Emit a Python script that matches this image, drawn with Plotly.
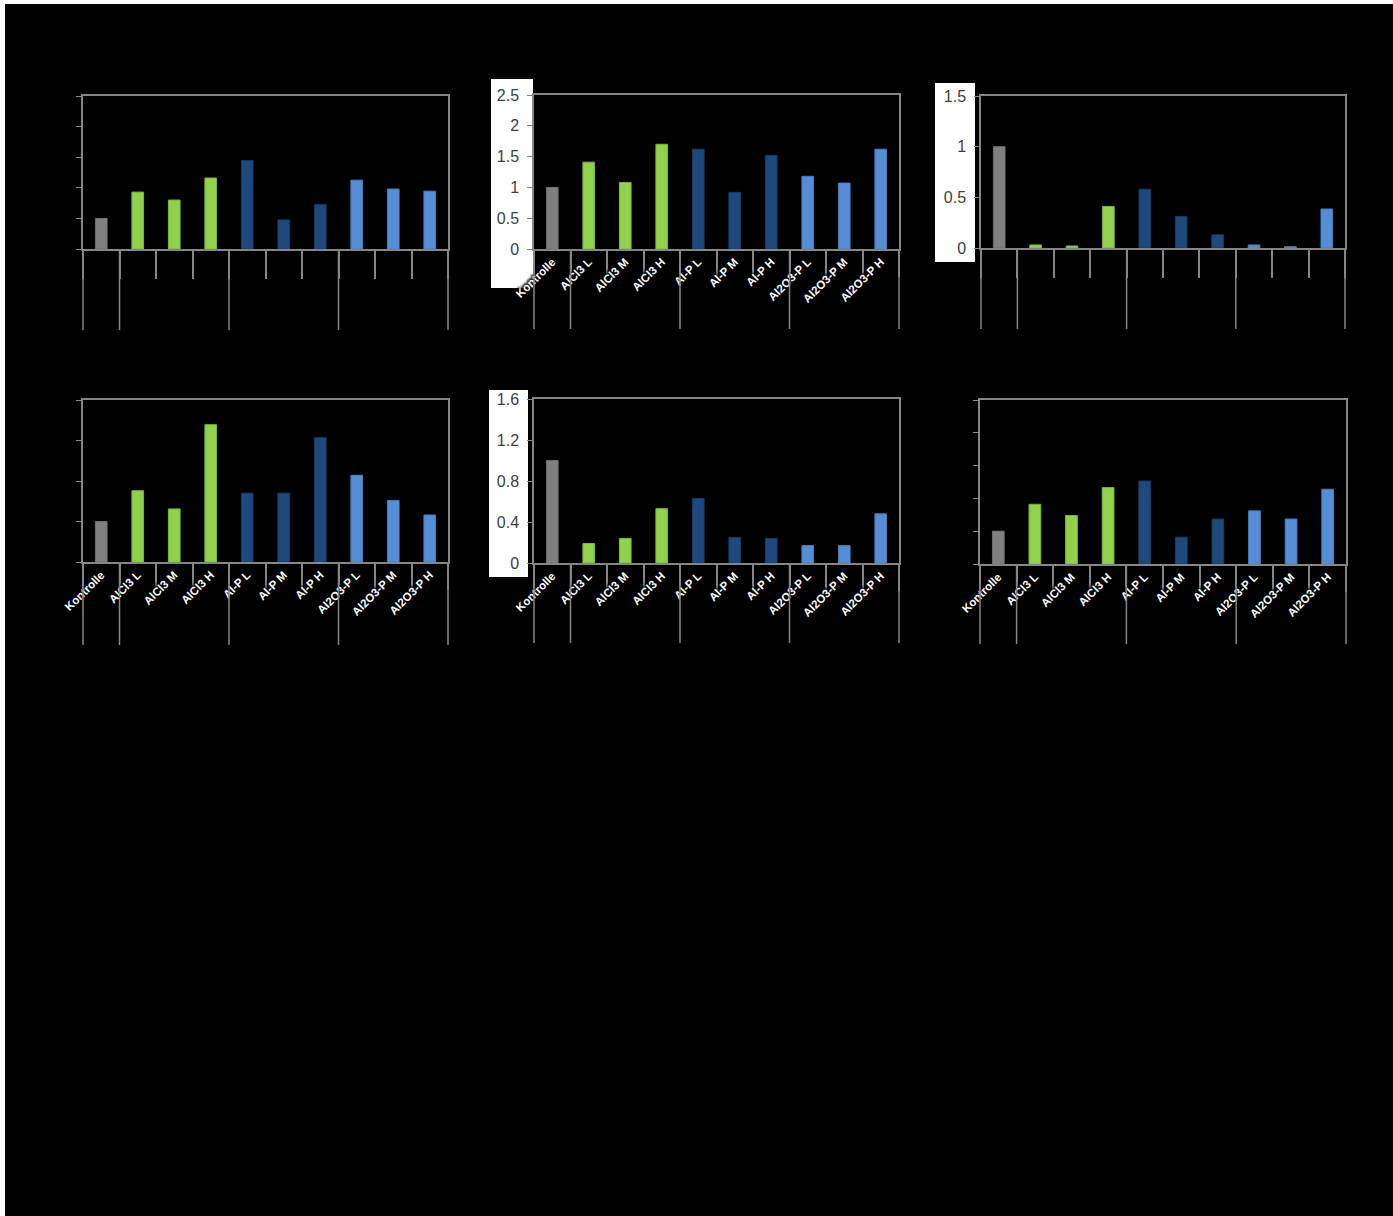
import plotly.graph_objects as go

W, H = 1393, 1216

categories = ["Kontrolle", "AlCl3 L", "AlCl3 M", "AlCl3 H", "Al-P L", "Al-P M", "Al-P H",
              "Al2O3-P L", "Al2O3-P M", "Al2O3-P H"]
groups = ["Kontrolle", "AlCl3", "AlCl3", "AlCl3", "Al-P", "Al-P", "Al-P",
          "Al2O3-P", "Al2O3-P", "Al2O3-P"]
group_colors = {"Kontrolle": "#808080", "AlCl3": "#92D050", "Al-P": "#1F497D", "Al2O3-P": "#558ED5"}
group_edges = {"Kontrolle": "#707070", "AlCl3": "#7DB63F", "Al-P": "#183B66", "Al2O3-P": "#4A7EBE"}

values_top_left = [1.0, 1.86, 1.60, 2.32, 2.89, 0.95, 1.45, 2.25, 1.96, 1.89]
values_top_mid = [1.0, 1.41, 1.08, 1.70, 1.62, 0.92, 1.52, 1.18, 1.07, 1.62]
values_top_right = [1.0, 0.03, 0.02, 0.41, 0.58, 0.31, 0.13, 0.03, 0.013, 0.385]
values_bot_left = [1.0, 1.76, 1.31, 3.39, 1.70, 1.70, 3.07, 2.14, 1.52, 1.16]
values_bot_mid = [1.0, 0.19, 0.24, 0.53, 0.63, 0.25, 0.24, 0.17, 0.17, 0.48]
values_bot_right = [1.0, 1.82, 1.48, 2.33, 2.53, 0.82, 1.37, 1.62, 1.37, 2.28]

HIDDEN = "rgba(0,0,0,0)"

# panel layout (pixel boxes of plot areas), axis ranges
panels = [
    dict(vals=values_top_left, x=(83, 448), y=(96, 249), rng=(0, 5), dtick=1,
         ylab=HIDDEN, xlab=HIDDEN, box=None, ticklen=28, divbot=330),
    dict(vals=values_top_mid, x=(534, 899), y=(95, 249), rng=(0, 2.5), dtick=0.5,
         ylab="#404040", xlab="#FFFFFF", box=(491, 533, 79, 288), ticklen=26, divbot=329),
    dict(vals=values_top_right, x=(981, 1345), y=(96, 248), rng=(0, 1.5), dtick=0.5,
         ylab="#404040", xlab=HIDDEN, box=(935, 975, 83, 262), ticklen=28, divbot=329),
    dict(vals=values_bot_left, x=(83, 448), y=(400, 562), rng=(0, 4), dtick=1,
         ylab=HIDDEN, xlab="#FFFFFF", box=None, ticklen=26, divbot=645),
    dict(vals=values_bot_mid, x=(534, 899), y=(399, 563), rng=(0, 1.6), dtick=0.4,
         ylab="#404040", xlab="#FFFFFF", box=(489, 528, 390, 577), ticklen=26, divbot=643),
    dict(vals=values_bot_right, x=(980, 1346), y=(400, 564), rng=(0, 5), dtick=1,
         ylab=HIDDEN, xlab="#FFFFFF", box=None, ticklen=26, divbot=644),
]

AX = "#868686"


def px(xp):
    return xp / W


def py(yp):
    return 1 - yp / H


fig = go.Figure()
shapes = [
    dict(type="rect", xref="paper", yref="paper", x0=0, x1=px(5), y0=0, y1=1,
         fillcolor="white", line=dict(width=0), layer="below"),
    dict(type="rect", xref="paper", yref="paper", x0=0, x1=1, y0=py(4), y1=1,
         fillcolor="white", line=dict(width=0), layer="below"),
]

# group boundaries as fractions of the axis domain
bounds = [0]
for i in range(1, len(groups)):
    if groups[i] != groups[i - 1]:
        bounds.append(i / len(groups))
bounds.append(1.0)

colors = [group_colors[g] for g in groups]
edges = [group_edges[g] for g in groups]

for i, p in enumerate(panels):
    n = i + 1
    xa = "x" if n == 1 else f"x{n}"
    ya = "y" if n == 1 else f"y{n}"
    fig.add_trace(go.Bar(x=categories, y=p["vals"], xaxis=xa, yaxis=ya,
                         marker=dict(color=colors, line=dict(color=edges, width=1)),
                         showlegend=False))
    xkey = "xaxis" if n == 1 else f"xaxis{n}"
    ykey = "yaxis" if n == 1 else f"yaxis{n}"
    xfont = dict(family="Liberation Sans, Arial", size=11.5, color=p["xlab"], weight="bold")
    if p["xlab"] != HIDDEN:
        xfont["shadow"] = "2px 0px 2px black, -2px 0px 2px black, 0px 2px 2px black, 0px -2px 2px black"
    fig.update_layout(**{
        xkey: dict(domain=[px(p["x"][0]), px(p["x"][1])], anchor=ya, type="category",
                   range=[-0.5, len(categories) - 0.5], showgrid=False, zeroline=False,
                   automargin=False,
                   showline=True, linecolor=AX, linewidth=1.5, mirror=True,
                   ticks="outside", tickson="boundaries", ticklen=p["ticklen"],
                   tickcolor=AX, tickwidth=1.5, tickangle=-45,
                   tickfont=xfont),
        ykey: dict(domain=[py(p["y"][1]), py(p["y"][0])], anchor=xa,
                   range=list(p["rng"]), dtick=p["dtick"], showgrid=False, zeroline=False,
                   automargin=False,
                   showline=True, linecolor=AX, linewidth=1.5, mirror=True,
                   ticks="outside", ticklen=5, tickcolor=AX, tickwidth=1,
                   ticklabelstandoff=5,
                   tickfont=dict(family="Liberation Sans, Arial", size=16, color=p["ylab"])),
    })
    if p["box"]:
        x0, x1, y0, y1 = p["box"]
        shapes.append(dict(type="rect", xref="paper", yref="paper",
                           x0=px(x0), x1=px(x1), y0=py(y1), y1=py(y0),
                           fillcolor="white", line=dict(width=0), layer="below"))
    dref = f"{xa} domain"
    for b in bounds:
        shapes.append(dict(type="line", xref=dref, yref="paper", x0=b, x1=b,
                           y0=py(p["y"][1]), y1=py(p["divbot"]),
                           line=dict(color=AX, width=1.5)))

fig.update_layout(width=W, height=H, margin=dict(l=0, r=0, t=0, b=0, pad=0),
                  autosize=False,
                  paper_bgcolor="black", plot_bgcolor="rgba(0,0,0,0)",
                  bargap=0.68, shapes=shapes)

fig.write_html("out.html",
               post_script="document.body.style.margin='0';document.body.style.overflow='hidden';")
